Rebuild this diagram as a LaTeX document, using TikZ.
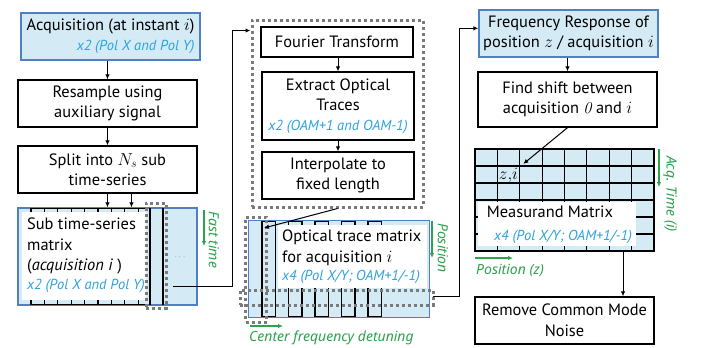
\documentclass[tikz,border=0pt]{standalone}
\usepackage{fontspec}
\setmainfont{PT Sans}
\newfontfamily\gfont{Noto Sans}
\usetikzlibrary{arrows.meta,calc}
\definecolor{lblue}{HTML}{D4EAF4}
\definecolor{bblue}{HTML}{4F7FC4}
\definecolor{tblue}{HTML}{2BA3DE}
\definecolor{tgreen}{HTML}{2DA24F}
\definecolor{dgray}{HTML}{7A7A7A}
\newcommand\mainsz{\fontsize{16.4}{20.5}\selectfont}
\newcommand\bluet[1]{{\color{tblue}\fontsize{14.5}{18}\selectfont\itshape #1}}
\begin{document}
\begin{tikzpicture}[x=1pt,y=-1pt,
  box/.style={draw=black, line width=1.3pt, fill=white, align=center, inner sep=2pt, font=\mainsz},
  bbox/.style={box, draw=bblue, fill=lblue},
  wbox/.style={fill=white, inner sep=0pt},
  ltext/.style={font=\mainsz, align=left, inner sep=0pt, anchor=north west},
  arr/.style={-{Latex[length=5pt,width=4.5pt]}, line width=1pt},
  garr/.style={-{Latex[length=5pt,width=4.5pt]}, draw=tgreen, line width=1.2pt},
  gtext/.style={text=tgreen, font=\gfont\itshape\fontsize{14}{17}\selectfont, inner sep=0pt},
  dbox/.style={draw=dgray, line width=3pt, dash pattern=on 3pt off 3pt},
  col/.style={draw=black, line width=1.1pt},
]
\useasboundingbox (0,0) rectangle (710,348);

% ---------------- left column
\node[bbox, minimum width=179pt, minimum height=47pt, align=right] (acq) at (110.5,36.5)
  {Acquisition (at instant $i$)\\ \bluet{x2 (Pol X and Pol Y)}};
\node[box, minimum width=179pt, minimum height=47pt] (res) at (107.5,103.5)
  {Resample using\\ auxiliary signal};
\node[box, minimum width=179pt, minimum height=47pt] (split) at (107.5,169.5)
  {Split into $N_s$ sub\\ time-series};
\node[draw=bblue, fill=lblue, line width=1.3pt, minimum width=179pt, minimum height=97pt, inner sep=0pt] (subm) at (107.5,256.5) {};
\draw[col] (31,208) -- (146,208) (31,305) -- (146,305);
\foreach \k in {0,...,8} \draw[col] (31+\k*13.4,208) -- (31+\k*13.4,305);
\node[wbox, minimum width=124pt, minimum height=88pt] (subw) at (84,256) {};
\node[ltext] (subtxt) at (27,218)
  {Sub time-series\\ matrix\\ (\textit{acquisition i} )\\[-2pt] \bluet{x2 (Pol X and Pol Y)}};
\draw[col, line width=1.5pt] (150,208) -- (150,305) (163,208) -- (163,305);
\node[dbox, minimum width=20pt, minimum height=105pt, inner sep=0pt] (subcol) at (156,255.5) {};
\draw[draw=bblue, line width=1.3pt] (subm.north west) rectangle (subm.south east);
\node[text=gray, font=\fontsize{9}{9}\selectfont] (dots) at (180,257) {$\cdots$};
\draw[garr] (204,210) -- (204,246);
\node[gtext, rotate=-90] (fastlbl) at (214,240) {Fast time};

\draw[arr] (res.north |- acq.south) -- (res.north);
\draw[arr] (split.north |- res.south) -- (split.north);
\draw[arr] (split.south) -- (subm.north);
\draw[arr] ([xshift=24pt]split.south) -- ([xshift=24pt]subm.north);

% ---------------- middle column
\node[dbox, minimum width=171pt, minimum height=187pt, inner sep=0pt] (proc) at (337.5,113.5) {};
\node[box, minimum width=152pt, minimum height=30pt] (ft) at (337,42) {Fourier Transform};
\node[box, minimum width=152pt, minimum height=68pt] (ext) at (338,106)
  {Extract Optical\\ Traces\\[-1pt] \bluet{x2 (OAM+1 and OAM-1)}};
\node[box, minimum width=152pt, minimum height=47pt] (interp) at (338,175.5)
  {Interpolate to\\ fixed length};
\draw[arr] (ext.north |- ft.south) -- (ext.north);
\draw[arr] (interp.north |- ext.south) -- (interp.north);

\node[fill=lblue, minimum width=180pt, minimum height=96pt, inner sep=0pt] (optm) at (339,269) {};
\foreach \a in {262,288.5,315,341.5,368} \draw[col] (\a,221) rectangle (\a+13.5,317);
\node[wbox, minimum width=149pt, minimum height=63pt] (optw) at (352.5,256.5) {};
\node[ltext] (opttxt) at (282,230)
  {Optical trace matrix\\ for acquisition $i$\\[-2pt] \bluet{x4 (Pol X/Y; OAM+1/-1)}};
\draw[draw=bblue, line width=1.3pt] (optm.north west) rectangle (optm.south east);
\node[dbox, minimum width=193pt, minimum height=15pt, inner sep=0pt] (optrow) at (336.5,297.5) {};
\node[dbox, minimum width=21pt, minimum height=105pt, inner sep=0pt] (optcol) at (256,269.5) {};
\coordinate (optin) at (264,228);
\draw[arr] (proc.south) -- (optin);
\draw[garr] (432,221) -- (432,258);
\node[gtext, rotate=-90] (poslbl) at (443,248) {Position};
\draw[garr] (250,326) -- (283,326);
\node[gtext, anchor=west] (cfd) at (249,338) {Center frequency detuning};

% ---------------- right column
\node[bbox, minimum width=179pt, minimum height=47pt] (freq) at (568.5,33.5)
  {Frequency Response of\\ position $z$ / acquisition $i$};
\node[box, minimum width=179pt, minimum height=55pt] (find) at (567.5,99.5)
  {Find shift between\\ acquisition {\fontfamily{lmr}\selectfont\itshape 0} and $i$};
\draw[arr] (find.north |- freq.south) -- (find.north);

\node[draw=black, fill=lblue, line width=1.3pt, minimum width=179pt, minimum height=102pt, inner sep=0pt] (grid) at (564.5,200) {};
\foreach \k in {1,...,7} \draw[col] (475+\k*22.375,149) -- (475+\k*22.375,251);
\foreach \k in {1,...,5} \draw[col] (475,149+\k*17) -- (654,149+\k*17);
\draw[line width=1.3pt] (grid.north west) rectangle (grid.south east);
\node[wbox, minimum width=158pt, minimum height=44pt] (meas) at (557,224) {};
\node[font=\mainsz, inner sep=0pt] (meastxt) at (550,212) {Measurand Matrix};
\node[inner sep=0pt] (measblue) at (563,237) {\bluet{x4 (Pol X/Y; OAM+1/-1)}};
\node[font=\mainsz, inner sep=1pt] (zi) at (508.5,175.5) {$z{,}i$};
\draw[arr] (find.south) -- ($(zi.north east)+(4,-3)$);
\draw[garr] (659,149) -- (659,187);
\node[gtext, rotate=-90] (acqlbl) at (670,194) {Acq. Time (i)};
\draw[garr] (475,258) -- (513,258);
\node[gtext, anchor=west] (poszlbl) at (476,270) {Position (z)};

\node[box, minimum width=179pt, minimum height=47pt] (rem) at (564.5,320.5)
  {Remove Common Mode\\ Noise};
\draw[arr] ([xshift=58.5pt]grid.south) -- ([xshift=58.5pt]rem.north);

% ---------------- long connectors
\coordinate (subout) at (173,286);
\draw[arr] (subout) -- (232,286) |- ($(proc.north west)+(0,12)$);
\coordinate (optout) at (433,296);
\draw[arr] (optout) -- (459,296) |- ($(freq.north west)+(0,19)$);
\end{tikzpicture}
\end{document}
